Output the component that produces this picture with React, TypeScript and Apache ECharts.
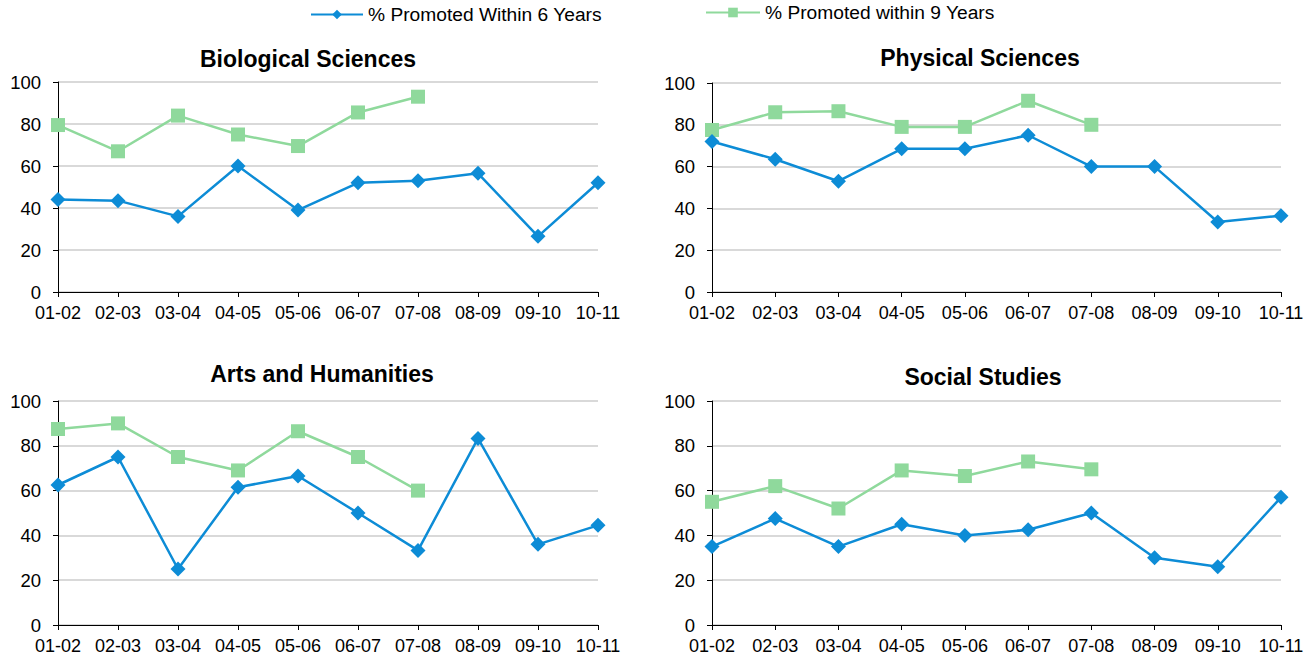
import React, { useEffect, useRef } from "react";
import * as echarts from "echarts";

const categories = ["01-02", "02-03", "03-04", "04-05", "05-06", "06-07", "07-08", "08-09", "09-10", "10-11"];
const yTicks = [0, 20, 40, 60, 80, 100];

const panelTitles = ["Biological Sciences", "Physical Sciences", "Arts and Humanities", "Social Studies"];

const bio6 = [44, 43.5, 36, 60, 39, 52, 53, 56.5, 26.5, 52];
const bio9 = [79.5, 67, 84, 75, 69.5, 85.5, 93];
const phys6 = [72, 63.5, 53, 68.5, 68.5, 75, 60, 60, 33.5, 36.5];
const phys9 = [77.5, 86, 86.5, 79, 79, 91.5, 80];
const arts6 = [62.5, 75, 25, 61.5, 66.5, 50, 33.3, 83.3, 36, 44.5];
const arts9 = [87.5, 90, 75, 69, 86.5, 75, 60];
const soc6 = [35, 47.5, 35, 45, 40, 42.5, 50, 30, 26, 57];
const soc9 = [55, 62, 52, 69, 66.5, 73, 69.5];

const name6 = "% Promoted Within 6 Years";
const name9 = "% Promoted within 9 Years";

const BLUE = "#0d8cd6";
const GREEN = "#8fd99c";
const FONT = "'Liberation Sans', Arial, sans-serif";

const grids = [
  { left: 58, top: 82, width: 540, height: 210 },
  { left: 712, top: 83, width: 569, height: 209 },
  { left: 58, top: 401, width: 540, height: 224 },
  { left: 712, top: 401, width: 569, height: 224 },
];
const titlePos = [
  { x: 308, y: 59 },
  { x: 980, y: 58 },
  { x: 322, y: 374 },
  { x: 983, y: 377 },
];
const series6 = [bio6, phys6, arts6, soc6];
const series9 = [bio9, phys9, arts9, soc9];

export default function App() {
  const ref = useRef<HTMLDivElement>(null);
  useEffect(() => {
    if (!ref.current) return;
    const chart = echarts.init(ref.current, undefined, { renderer: "svg" });
    const xAxis = grids.map((_, i) => ({
      type: "category",
      gridIndex: i,
      data: categories,
      boundaryGap: false,
      axisLine: { lineStyle: { color: "#000", width: 1 } },
      axisTick: { show: true, alignWithLabel: true, length: 5, lineStyle: { color: "#000" } },
      axisLabel: { color: "#000", fontSize: 18, fontFamily: FONT, margin: 12, interval: 0 },
      splitLine: { show: false },
    }));
    const yAxis = grids.map((_, i) => ({
      type: "value",
      gridIndex: i,
      min: yTicks[0],
      max: yTicks[yTicks.length - 1],
      interval: yTicks[1] - yTicks[0],
      axisLine: { show: true, lineStyle: { color: "#000", width: 1 } },
      axisTick: { show: true, length: 5, lineStyle: { color: "#000" } },
      axisLabel: { color: "#000", fontSize: 18.5, fontFamily: FONT, margin: 17 },
      splitLine: { show: true, lineStyle: { color: "#d9d9d9", width: 2 } },
    }));
    const series: any[] = [];
    grids.forEach((_, i) => {
      series.push({
        name: name9,
        type: "line",
        xAxisIndex: i,
        yAxisIndex: i,
        data: series9[i],
        symbol: "rect",
        symbolSize: 14,
        lineStyle: { color: GREEN, width: 2.5 },
        itemStyle: { color: GREEN },
        z: 2,
      });
      series.push({
        name: name6,
        type: "line",
        xAxisIndex: i,
        yAxisIndex: i,
        data: series6[i],
        symbol: "diamond",
        symbolSize: 15,
        lineStyle: { color: BLUE, width: 2.5 },
        itemStyle: { color: BLUE },
        z: 3,
      });
    });
    chart.setOption({
      animation: false,
      backgroundColor: "#fff",
      legend: [
        {
          data: [name6],
          left: 305,
          top: 0,
          itemWidth: 52,
          itemHeight: 12,
          itemGap: 10,
          textStyle: { color: "#000", fontSize: 19.2, fontFamily: FONT },
        },
        {
          data: [name9],
          left: 700,
          top: -2,
          itemWidth: 54,
          itemHeight: 12,
          itemGap: 10,
          textStyle: { color: "#000", fontSize: 19.2, fontFamily: FONT },
        },
      ],
      grid: grids.map((g) => ({ ...g, containLabel: false })),
      xAxis,
      yAxis,
      series,
      graphic: panelTitles.map((t, i) => ({
        type: "text",
        x: titlePos[i].x,
        y: titlePos[i].y,
        style: {
          text: t,
          fill: "#000",
          font: `bold 23px ${FONT}`,
          textAlign: "center",
          textVerticalAlign: "middle",
        },
      })),
    });
    return () => chart.dispose();
  }, []);
  return (
    <div
      ref={ref}
      style={{ position: "fixed", left: 0, top: 0, width: 1313, height: 660 }}
    />
  );
}
